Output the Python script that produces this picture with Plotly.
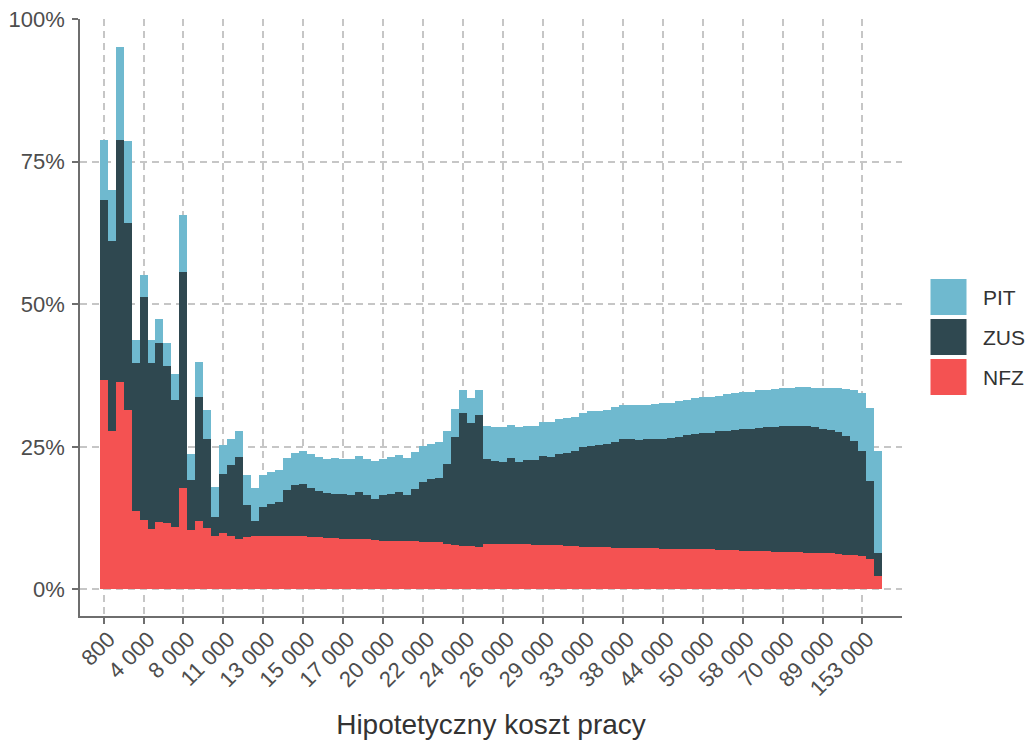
import plotly.graph_objects as go

# Bin index along the x axis (one bar per labour-cost bin)
bins = list(range(98))

# Tick labels shown on every 5th bin
tick_positions = [0, 5, 10, 15, 20, 25, 30, 35, 40, 45, 50, 55, 60, 65, 70, 75, 80, 85, 90, 95]
tick_labels = ["800", "4 000", "8 000", "11 000", "13 000", "15 000", "17 000", "20 000",
               "22 000", "24 000", "26 000", "29 000", "33 000", "38 000", "44 000",
               "50 000", "58 000", "70 000", "89 000", "153 000"]

# Shares of labour cost (segment heights)
nfz = [0.368, 0.277, 0.364, 0.315, 0.138, 0.121, 0.106, 0.118, 0.117, 0.109,
       0.177, 0.104, 0.120, 0.108, 0.093, 0.098, 0.093, 0.089, 0.092, 0.093,
       0.094, 0.093, 0.093, 0.093, 0.093, 0.093, 0.092, 0.091, 0.090, 0.090,
       0.089, 0.088, 0.088, 0.089, 0.087, 0.085, 0.085, 0.085, 0.085, 0.084,
       0.083, 0.083, 0.083, 0.080, 0.078, 0.076, 0.076, 0.075, 0.080, 0.080,
       0.080, 0.079, 0.080, 0.079, 0.078, 0.078, 0.077, 0.077, 0.076, 0.076,
       0.075, 0.074, 0.074, 0.074, 0.073, 0.073, 0.073, 0.073, 0.072, 0.072,
       0.071, 0.071, 0.071, 0.070, 0.070, 0.070, 0.070, 0.069, 0.069, 0.069,
       0.068, 0.067, 0.067, 0.067, 0.066, 0.066, 0.066, 0.065, 0.064, 0.064,
       0.063, 0.063, 0.062, 0.061, 0.060, 0.058, 0.053, 0.024]

zus = [0.315, 0.334, 0.425, 0.327, 0.259, 0.392, 0.291, 0.314, 0.274, 0.224,
       0.379, 0.087, 0.217, 0.156, 0.034, 0.105, 0.125, 0.144, 0.056, 0.027,
       0.050, 0.056, 0.060, 0.082, 0.090, 0.091, 0.086, 0.082, 0.079, 0.078,
       0.078, 0.078, 0.083, 0.076, 0.072, 0.080, 0.083, 0.086, 0.081, 0.092,
       0.105, 0.110, 0.113, 0.139, 0.190, 0.233, 0.215, 0.231, 0.149, 0.145,
       0.144, 0.152, 0.143, 0.147, 0.149, 0.156, 0.156, 0.160, 0.164, 0.167,
       0.175, 0.178, 0.179, 0.181, 0.185, 0.191, 0.190, 0.189, 0.191, 0.192,
       0.193, 0.194, 0.197, 0.201, 0.203, 0.204, 0.205, 0.208, 0.209, 0.210,
       0.213, 0.215, 0.216, 0.217, 0.219, 0.220, 0.220, 0.221, 0.222, 0.221,
       0.219, 0.216, 0.214, 0.208, 0.201, 0.184, 0.137, 0.039]

pit = [0.106, 0.089, 0.163, 0.144, 0.041, 0.039, 0.041, 0.042, 0.041, 0.044,
       0.101, 0.047, 0.062, 0.051, 0.052, 0.051, 0.046, 0.045, 0.053, 0.057,
       0.056, 0.056, 0.057, 0.056, 0.057, 0.058, 0.060, 0.059, 0.060, 0.063,
       0.062, 0.063, 0.063, 0.064, 0.066, 0.064, 0.064, 0.064, 0.065, 0.065,
       0.063, 0.062, 0.063, 0.059, 0.049, 0.041, 0.045, 0.044, 0.057, 0.059,
       0.060, 0.058, 0.061, 0.060, 0.060, 0.059, 0.061, 0.061, 0.060, 0.059,
       0.060, 0.060, 0.060, 0.060, 0.061, 0.059, 0.060, 0.061, 0.061, 0.061,
       0.062, 0.062, 0.062, 0.061, 0.062, 0.063, 0.063, 0.063, 0.064, 0.065,
       0.065, 0.065, 0.066, 0.066, 0.066, 0.067, 0.068, 0.069, 0.069, 0.069,
       0.072, 0.074, 0.077, 0.082, 0.089, 0.103, 0.128, 0.180]

series_names = ["NFZ", "ZUS", "PIT"]
series_colors = {"NFZ": "#F45252", "ZUS": "#2F4850", "PIT": "#6FB9CF"}
series_values = {"NFZ": nfz, "ZUS": zus, "PIT": pit}

FONT = "Liberation Sans, Arial, sans-serif"
TXT = "#4D4D4D"
GRID = "#C6C6C6"
AXIS = "#6E6E6E"

fig = go.Figure()
for name in series_names:
    fig.add_trace(go.Bar(
        x=bins, y=series_values[name], name=name,
        marker=dict(color=series_colors[name], line=dict(width=0)),
        width=1.0, showlegend=False,
    ))

# custom legend (large square keys like the original)
legend_order = ["PIT", "ZUS", "NFZ"]
plot_l, plot_r, plot_t, plot_b = 80, 902, 19, 616
pw, ph = plot_r - plot_l, plot_b - plot_t
def px_x(p):
    return (p - plot_l) / pw
def px_y(p):
    return (plot_b - p) / ph
shapes = []
annotations = []
for k, name in enumerate(legend_order):
    top = 279 + 40 * k
    shapes.append(dict(type="rect", xref="paper", yref="paper",
                       x0=px_x(930.5), x1=px_x(966.5), y0=px_y(top + 36), y1=px_y(top),
                       fillcolor=series_colors[name], line=dict(width=0), layer="above"))
    annotations.append(dict(xref="paper", yref="paper", x=px_x(981), y=px_y(top + 18),
                            text=name, showarrow=False, xanchor="left", yanchor="middle",
                            font=dict(family=FONT, size=21, color="#333333")))

fig.update_layout(
    barmode="stack",
    bargap=0,
    width=1029, height=740,
    margin=dict(l=plot_l, r=1029 - plot_r, t=plot_t, b=740 - plot_b, autoexpand=False),
    paper_bgcolor="white", plot_bgcolor="white",
    font=dict(family=FONT, size=20, color=TXT),
    shapes=shapes, annotations=annotations,
    xaxis=dict(
        range=[-2.95, 99.95],
        tickmode="array", tickvals=tick_positions, ticktext=tick_labels,
        tickangle=-45, tickfont=dict(family=FONT, size=22, color=TXT),
        ticklabelstandoff=-6, ticklabelshift=5,
        ticks="outside", ticklen=6, tickwidth=1.5, tickcolor=AXIS,
        showline=True, linecolor=AXIS, linewidth=1.5,
        showgrid=True, gridcolor=GRID, gridwidth=1.5, griddash="7px,5px",
        zeroline=False,
        title=dict(text="Hipotetyczny koszt pracy", font=dict(family=FONT, size=28, color="#333333"), standoff=15),
    ),
    yaxis=dict(
        range=[-0.0468, 1.0005],
        tickmode="array", tickvals=[0, 0.25, 0.5, 0.75, 1.0],
        ticktext=["0%", "25%", "50%", "75%", "100%"],
        tickfont=dict(family=FONT, size=22, color=TXT),
        ticklabelstandoff=3,
        ticks="outside", ticklen=6, tickwidth=1.5, tickcolor=AXIS,
        showline=True, linecolor=AXIS, linewidth=1.5,
        showgrid=True, gridcolor=GRID, gridwidth=1.5, griddash="7px,5px",
        zeroline=False,
    ),
)

fig.write_html("out.html", config={"displayModeBar": False},
               post_script="document.body.style.margin='0px';document.body.style.overflow='hidden';")
